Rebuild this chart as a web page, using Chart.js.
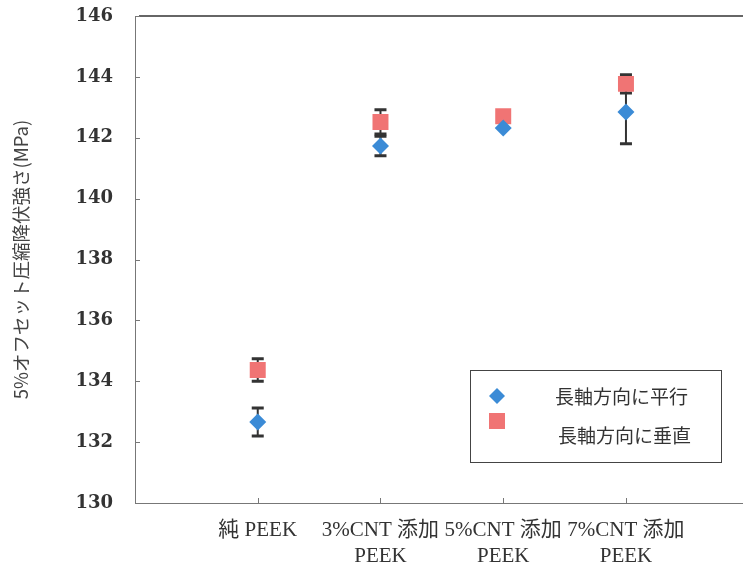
<!DOCTYPE html>
<html>
<head>
<meta charset="utf-8">
<script src="https://cdn.jsdelivr.net/npm/chart.js@4.4.1/dist/chart.umd.min.js"></script>
<style>
  html, body { margin: 0; padding: 0; background: #fff; overflow: hidden; }
  #wrap { width: 760px; height: 568px; }
</style>
</head>
<body>
<div id="wrap"><canvas id="c" width="760" height="568"></canvas></div>
<script>
// categories and values
var categories = [['純 PEEK'], ['3%CNT 添加', 'PEEK'], ['5%CNT 添加', 'PEEK'], ['7%CNT 添加', 'PEEK']];
var xPos = [1, 2, 3, 4];
var parallel = [132.66, 141.73, 142.32, 142.85];
var parallelErr = [0.46, 0.32, 0.05, 1.05];
var perpendicular = [134.37, 142.52, 142.71, 143.77];
var perpendicularErr = [0.37, 0.40, 0.05, 0.30];
var yTicks = [130, 132, 134, 136, 138, 140, 142, 144, 146];
var seriesNames = ['長軸方向に平行', '長軸方向に垂直'];

var blue = '#3b8bd6';
var red = '#f07474';

function pts(vals, errs) {
  return vals.map(function (v, i) { return { x: xPos[i], y: v, err: errs[i] }; });
}

// error bars, inward ticks, top line and legend
var extras = {
  id: 'extras',
  beforeDatasetsDraw: function (chart) {
    var ctx = chart.ctx, xs = chart.scales.x, ys = chart.scales.y;
    ctx.save();
    ctx.strokeStyle = '#333';
    chart.data.datasets.forEach(function (ds) {
      ds.data.forEach(function (p) {
        if (p.err < 0.1) return;
        var x = xs.getPixelForValue(p.x);
        var y1 = ys.getPixelForValue(p.y - p.err);
        var y2 = ys.getPixelForValue(p.y + p.err);
        ctx.lineWidth = 2;
        ctx.beginPath(); ctx.moveTo(x, y1); ctx.lineTo(x, y2); ctx.stroke();
        ctx.lineWidth = 3;
        ctx.beginPath();
        ctx.moveTo(x - 6, y1); ctx.lineTo(x + 6, y1);
        ctx.moveTo(x - 6, y2); ctx.lineTo(x + 6, y2);
        ctx.stroke();
      });
    });
    ctx.restore();
  },
  afterDraw: function (chart) {
    var ctx = chart.ctx, a = chart.chartArea, xs = chart.scales.x, ys = chart.scales.y;
    ctx.save();
    // top line
    ctx.strokeStyle = '#333';
    ctx.lineWidth = 1.5;
    ctx.beginPath(); ctx.moveTo(a.left + 4, a.top); ctx.lineTo(a.right, a.top); ctx.stroke();
    // inward ticks
    ctx.strokeStyle = '#777';
    ctx.lineWidth = 1;
    yTicks.forEach(function (v) {
      var y = Math.round(ys.getPixelForValue(v)) + 0.5;
      ctx.beginPath(); ctx.moveTo(a.left, y); ctx.lineTo(a.left + 5, y); ctx.stroke();
    });
    xPos.forEach(function (v) {
      var x = Math.round(xs.getPixelForValue(v)) + 0.5;
      ctx.beginPath(); ctx.moveTo(x, a.bottom); ctx.lineTo(x, a.bottom - 5); ctx.stroke();
    });
    // legend
    ctx.strokeStyle = '#444';
    ctx.lineWidth = 1;
    ctx.strokeRect(470.5, 370.5, 251, 92);
    ctx.font = '19px "Noto Sans CJK JP"';
    ctx.textBaseline = 'middle';
    var ds = chart.data.datasets;
    ctx.fillStyle = ds[0].backgroundColor;
    ctx.beginPath();
    ctx.moveTo(497, 388); ctx.lineTo(505, 396); ctx.lineTo(497, 404); ctx.lineTo(489, 396);
    ctx.closePath(); ctx.fill();
    ctx.fillStyle = ds[1].backgroundColor;
    ctx.fillRect(489, 413, 16, 16);
    ctx.fillStyle = '#333';
    ctx.fillText(ds[0].label, 555, 397);
    ctx.fillText(ds[1].label, 558, 436);
    ctx.restore();
  }
};

new Chart(document.getElementById('c'), {
  type: 'scatter',
  data: {
    datasets: [
      {
        label: seriesNames[0],
        data: pts(parallel, parallelErr),
        pointStyle: 'rectRot',
        pointRadius: 8.5,
        pointHoverRadius: 8.5,
        backgroundColor: blue,
        borderColor: blue,
        borderWidth: 0
      },
      {
        label: seriesNames[1],
        data: pts(perpendicular, perpendicularErr),
        pointStyle: 'rect',
        pointRadius: 11.3,
        pointHoverRadius: 11.3,
        backgroundColor: red,
        borderColor: red,
        borderWidth: 0
      }
    ]
  },
  options: {
    responsive: false,
    animation: false,
    layout: { padding: { top: 16, right: 6, left: 0, bottom: 0 } },
    plugins: { legend: { display: false }, tooltip: { enabled: false } },
    scales: {
      x: {
        type: 'linear',
        min: 0,
        max: 5,
        afterBuildTicks: function (s) { s.ticks = xPos.map(function (v) { return { value: v }; }); },
        afterFit: function (s) { s.height = 65; s.paddingLeft = 0; s.paddingRight = 0; },
        grid: { display: false, drawTicks: false },
        border: { color: '#777', width: 1 },
        ticks: {
          padding: 14,
          maxRotation: 0,
          autoSkip: false,
          color: '#333',
          font: { family: '"Liberation Serif", "Noto Sans CJK JP"', size: 21, lineHeight: 1.24 },
          callback: function (v) { var i = xPos.indexOf(v); return i >= 0 ? categories[i] : ''; }
        }
      },
      y: {
        min: 130,
        max: 146,
        afterBuildTicks: function (s) { s.ticks = yTicks.map(function (v) { return { value: v }; }); },
        afterFit: function (s) { s.width = 135; s.paddingTop = 0; s.paddingBottom = 0; },
        grid: { display: false, drawTicks: false },
        border: { color: '#777', width: 1 },
        ticks: {
          padding: 22,
          color: '#333',
          font: { family: '"DejaVu Serif"', size: 18, weight: 'bold' }
        },
        title: {
          display: true,
          text: '5%オフセット圧縮降伏強さ(MPa)',
          color: '#444',
          padding: { top: 10, bottom: 0 },
          font: { family: '"Noto Sans CJK JP"', size: 18.5 }
        }
      }
    }
  },
  plugins: [extras]
});
</script>
</body>
</html>
